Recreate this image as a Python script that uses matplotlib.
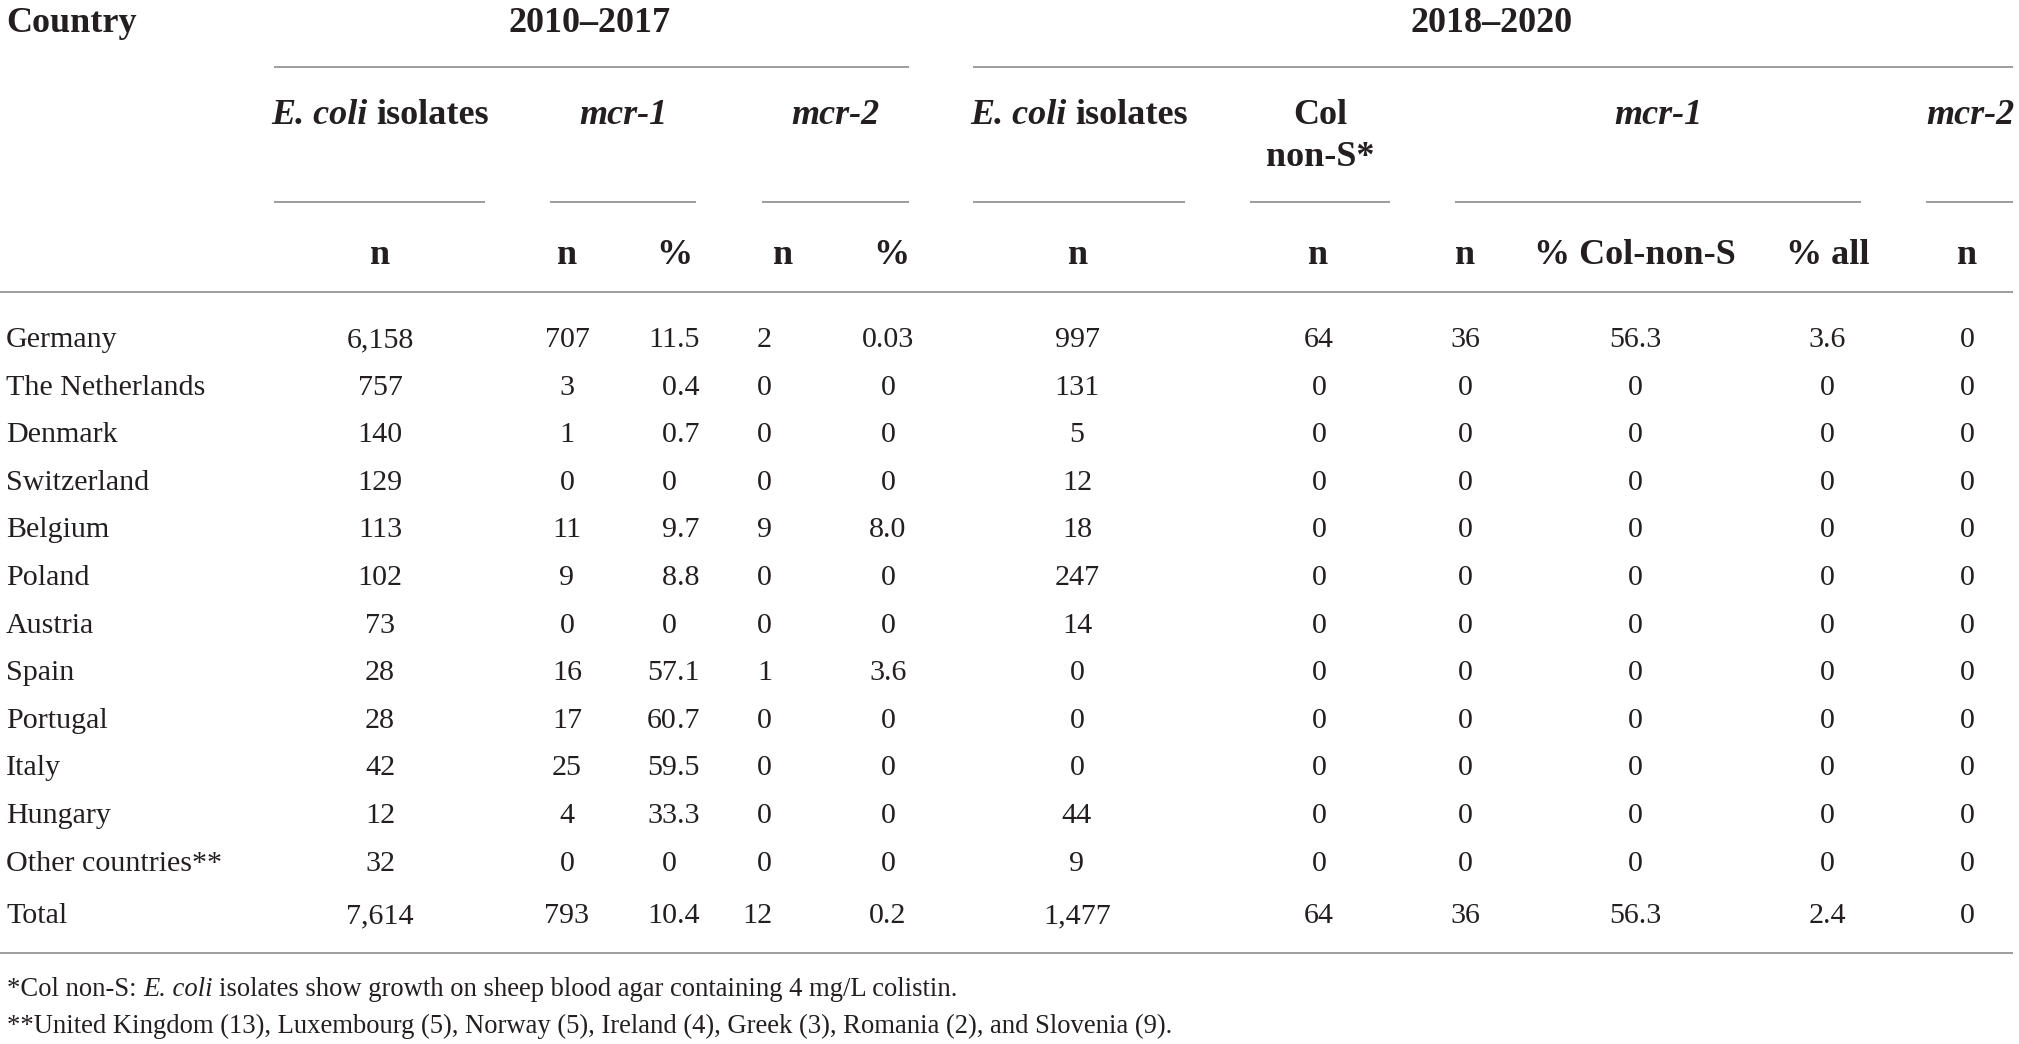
import matplotlib
matplotlib.use("Agg")
import matplotlib.pyplot as plt

# table values
countries = ["Germany", "The Netherlands", "Denmark", "Switzerland", "Belgium", "Poland",
             "Austria", "Spain", "Portugal", "Italy", "Hungary", "Other countries**", "Total"]
ecoli_1017 = ["6,158", "757", "140", "129", "113", "102", "73", "28", "28", "42", "12", "32", "7,614"]
mcr1_n_1017 = ["707", "3", "1", "0", "11", "9", "0", "16", "17", "25", "4", "0", "793"]
mcr1_pct_1017 = ["11.5", "0.4", "0.7", "0", "9.7", "8.8", "0", "57.1", "60.7", "59.5", "33.3", "0", "10.4"]
mcr2_n_1017 = ["2", "0", "0", "0", "9", "0", "0", "1", "0", "0", "0", "0", "12"]
mcr2_pct_1017 = ["0.03", "0", "0", "0", "8.0", "0", "0", "3.6", "0", "0", "0", "0", "0.2"]
ecoli_1820 = ["997", "131", "5", "12", "18", "247", "14", "0", "0", "0", "44", "9", "1,477"]
colnons_1820 = ["64", "0", "0", "0", "0", "0", "0", "0", "0", "0", "0", "0", "64"]
mcr1_n_1820 = ["36", "0", "0", "0", "0", "0", "0", "0", "0", "0", "0", "0", "36"]
mcr1_pctcol_1820 = ["56.3", "0", "0", "0", "0", "0", "0", "0", "0", "0", "0", "0", "56.3"]
mcr1_pctall_1820 = ["3.6", "0", "0", "0", "0", "0", "0", "0", "0", "0", "0", "0", "2.4"]
mcr2_n_1820 = ["0"] * 13

footnote1 = [("*Col non-S:", "normal"), ("E. coli", "italic"),
             ("isolates show growth on sheep blood agar containing 4 mg/L colistin.", "normal")]
footnote2 = "**United Kingdom (13), Luxembourg (5), Norway (5), Ireland (4), Greek (3), Romania (2), and Slovenia (9)."

W, H = 2019, 1044
FONT = "Liberation Serif"
INK = "#231f20"
RULE = "#9c9c9c"
HEAD = 26.0
BODY = 21.6
FOOT = 19.2
DY = 3  # va="center" sits a little high for digits/caps

fig = plt.figure(figsize=(W / 100, H / 100), dpi=100)
ax = fig.add_axes([0, 0, 1, 1])
ax.set_xlim(0, W)
ax.set_ylim(H, 0)
ax.axis("off")
renderer = fig.canvas.get_renderer()


def width(s, size, weight="normal", style="normal"):
    t = ax.text(0, 0, s, fontsize=size, fontweight=weight, fontstyle=style, family=FONT)
    w = t.get_window_extent(renderer).width
    t.remove()
    return w


def runs(x, y, parts, size, weight="normal", ha="center"):
    # draw pieces of mixed style separated by single spaces
    sp = width("n n", size, weight) - width("nn", size, weight)
    ws = [width(s, size, weight, st) for s, st in parts]
    total = sum(ws) + sp * (len(parts) - 1)
    x0 = x - total / 2 if ha == "center" else x
    for (s, st), w in zip(parts, ws):
        ax.text(x0, y + DY, s, fontsize=size, fontweight=weight, fontstyle=st,
                family=FONT, color=INK, ha="left", va="center")
        x0 += w + sp


def txt(x, y, s, size=BODY, weight="normal", style="normal", ha="center"):
    ax.text(x, y + DY, s, fontsize=size, fontweight=weight, fontstyle=style,
            family=FONT, color=INK, ha=ha, va="center")


def rule(x0, x1, y):
    ax.plot([x0, x1], [y, y], color=RULE, lw=1.4, solid_capstyle="butt")


# header
txt(6, 20, "Country", HEAD, "bold", ha="left")
txt(590, 20, "2010\u20132017", HEAD, "bold")
txt(1492, 20, "2018\u20132020", HEAD, "bold")
rule(274, 909, 67)
rule(973, 2013, 67)

ecoli_head = [("E. coli", "italic"), ("isolates", "normal")]
runs(380, 113, ecoli_head, HEAD, "bold")
txt(623, 113, "mcr-1", HEAD, "bold", "italic")
txt(835, 113, "mcr-2", HEAD, "bold", "italic")
runs(1079, 113, ecoli_head, HEAD, "bold")
txt(1320, 113, "Col", HEAD, "bold")
txt(1320, 155, "non-S*", HEAD, "bold")
txt(1658, 113, "mcr-1", HEAD, "bold", "italic")
txt(1970, 113, "mcr-2", HEAD, "bold", "italic")

for x0, x1 in [(274, 485), (550, 696), (762, 909), (973, 1185),
               (1250, 1390), (1455, 1861), (1926, 2013)]:
    rule(x0, x1, 202)

sub_x = [380, 567, 674, 783, 891, 1078, 1318, 1465, 1635, 1828, 1967]
sub_lab = ["n", "n", "%", "n", "%", "n", "n", "n", "% Col-non-S", "% all", "n"]
for x, s in zip(sub_x, sub_lab):
    txt(x, 252, s, HEAD, "bold")

rule(0, 2013, 292)

# body rows
row_y = [337 + 47.6 * i for i in range(len(countries) - 1)] + [913]
centered = [(380, ecoli_1017), (567, mcr1_n_1017), (888, mcr2_pct_1017),
            (1077, ecoli_1820), (1319, colnons_1820), (1465, mcr1_n_1820),
            (1635, mcr1_pctcol_1820), (1827, mcr1_pctall_1820), (1967, mcr2_n_1820)]

for i, y in enumerate(row_y):
    txt(6, y, countries[i], ha="left")
    for x, col in centered:
        txt(x, y, col[i])
    # mcr-1 % aligned on the decimal point
    whole, _, frac = mcr1_pct_1017[i].partition(".")
    txt(677, y, whole, ha="right")
    if frac:
        txt(677, y, "." + frac, ha="left")
    txt(772, y, mcr2_n_1017[i], ha="right")

rule(0, 2013, 953)

# footnotes
runs(7, 987, footnote1, FOOT, ha="left")
txt(7, 1023, footnote2, FOOT, ha="left")

fig.savefig("out.png", dpi=100)
